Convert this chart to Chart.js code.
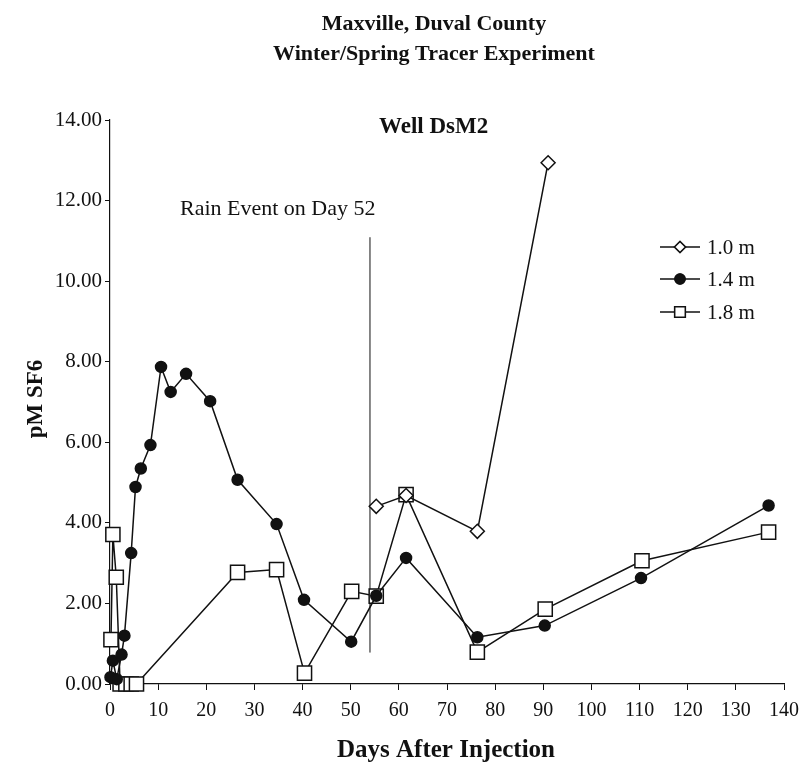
<!DOCTYPE html>
<html>
<head>
<meta charset="utf-8">
<script src="https://cdn.jsdelivr.net/npm/chart.js@4.4.1/dist/chart.umd.min.js"></script>
<style>
  html, body { margin: 0; padding: 0; background: #ffffff; }
  #wrap { position: relative; width: 801px; height: 765px; }
</style>
</head>
<body>
<div id="wrap"><canvas id="c" width="801" height="765"></canvas></div>
<script>
// ---- data ----
const titleLines = ["Maxville, Duval County", "Winter/Spring Tracer Experiment"];
const panelLabel = "Well DsM2";
const rainLabel = "Rain Event on Day 52";
const xTitle = "Days After Injection";
const yTitle = "pM SF6";
const seriesNames = ["1.0 m", "1.4 m", "1.8 m"];

const days10 = [55.3, 61.5, 76.3, 91.0];
const vals10 = [4.41, 4.68, 3.79, 12.94];

const days14 = [0.1, 0.6, 1.4, 2.4, 3.0, 4.4, 5.3, 6.4, 8.4, 10.6, 12.6, 15.8, 20.8, 26.5, 34.6, 40.3, 50.1, 55.3, 61.5, 76.3, 90.3, 110.3, 136.8];
const vals14 = [0.17, 0.58, 0.12, 0.73, 1.20, 3.25, 4.89, 5.35, 5.93, 7.87, 7.25, 7.70, 7.02, 5.07, 3.97, 2.09, 1.05, 2.19, 3.13, 1.16, 1.45, 2.63, 4.43];

const days18 = [0.2, 0.6, 1.3, 2.1, 3.3, 4.4, 5.5, 26.5, 34.6, 40.4, 50.2, 55.3, 61.5, 76.3, 90.4, 110.5, 136.8];
const vals18 = [1.10, 3.71, 2.65, 0, 0, 0, 0, 2.77, 2.84, 0.27, 2.30, 2.18, 4.70, 0.79, 1.86, 3.06, 3.77];

const rainDays = [54, 54];
const rainVals = [0.78, 11.09];

const xTicks = [0, 10, 20, 30, 40, 50, 60, 70, 80, 90, 100, 110, 120, 130, 140];
const yTicks = [0, 2, 4, 6, 8, 10, 12, 14];

// ---- build ----
const toXY = (xs, ys) => xs.map((x, i) => ({ x: x, y: ys[i] }));
const SERIF = "'Liberation Serif', 'Times New Roman', serif";

const CHART_LEFT = 110, CHART_RIGHT = 784, CHART_TOP = 120, CHART_BOTTOM = 684;

const textPlugin = {
  id: 'texts',
  afterDraw(chart) {
    const ctx = chart.ctx;
    ctx.save();
    ctx.fillStyle = '#111';
    ctx.textBaseline = 'middle';
    // title
    ctx.textAlign = 'center';
    ctx.font = 'bold 22px ' + SERIF;
    ctx.fillText(titleLines[0], 434, 24);
    ctx.fillText(titleLines[1], 434, 54);
    // panel label
    ctx.textAlign = 'left';
    ctx.font = 'bold 23px ' + SERIF;
    ctx.fillText(panelLabel, 379, 127);
    // rain label
    ctx.font = '22px ' + SERIF;
    ctx.fillText(rainLabel, 180, 209);
    // axis titles
    ctx.textAlign = 'center';
    ctx.font = 'bold 25px ' + SERIF;
    ctx.fillText(xTitle, 446, 751);
    ctx.save();
    ctx.translate(36, 399);
    ctx.rotate(-Math.PI / 2);
    ctx.font = 'bold 23px ' + SERIF;
    ctx.fillText(yTitle, 0, 0);
    ctx.restore();
    // legend
    const rows = [247, 279, 312];
    const styles = [
      { ps: 'rectRot', r: 5.5, fill: '#fff' },
      { ps: 'circle', r: 5, fill: '#111' },
      { ps: 'rect', r: 7.5, fill: '#fff' }
    ];
    ctx.textAlign = 'left';
    ctx.font = '21px ' + SERIF;
    rows.forEach((y, i) => {
      ctx.strokeStyle = '#111';
      ctx.lineWidth = 1.5;
      ctx.beginPath();
      ctx.moveTo(660, y);
      ctx.lineTo(700, y);
      ctx.stroke();
      ctx.fillStyle = styles[i].fill;
      Chart.helpers.drawPoint(ctx, { pointStyle: styles[i].ps, radius: styles[i].r, borderWidth: 1.5 }, 680, y);
      ctx.fill();
      ctx.stroke();
      ctx.fillStyle = '#111';
      ctx.fillText(seriesNames[i], 707, y + 1);
    });
    ctx.restore();
  }
};

const common = {
  borderColor: '#111',
  borderWidth: 1.5,
  pointBorderColor: '#111',
  pointBorderWidth: 1.5,
  tension: 0,
  clip: false,
  showLine: true
};

new Chart(document.getElementById('c'), {
  type: 'scatter',
  data: {
    datasets: [
      Object.assign({}, common, {
        label: seriesNames[0],
        data: toXY(days10, vals10),
        pointStyle: 'rectRot', pointRadius: 7, pointBackgroundColor: '#fff'
      }),
      Object.assign({}, common, {
        label: seriesNames[1],
        data: toXY(days14, vals14),
        pointStyle: 'circle', pointRadius: 5.5, pointBackgroundColor: '#111'
      }),
      Object.assign({}, common, {
        label: seriesNames[2],
        data: toXY(days18, vals18),
        pointStyle: 'rect', pointRadius: 10, pointBackgroundColor: '#fff'
      }),
      {
        label: 'rain',
        data: toXY(rainDays, rainVals),
        showLine: true, borderColor: '#111', borderWidth: 1, pointRadius: 0, clip: false
      }
    ]
  },
  options: {
    responsive: false,
    animation: false,
    layout: { padding: { top: CHART_TOP, right: 801 - CHART_RIGHT, left: 0, bottom: 0 } },
    plugins: { legend: { display: false }, title: { display: false }, tooltip: { enabled: false } },
    scales: {
      x: {
        type: 'linear', min: 0, max: 140,
        afterBuildTicks(s) { s.ticks = xTicks.map(v => ({ value: v })); },
        afterFit(s) { s.height = 765 - CHART_BOTTOM; s.paddingLeft = 0; s.paddingRight = 0; },
        grid: { display: true, drawOnChartArea: false, drawTicks: true, tickLength: 6, color: '#111', lineWidth: 1 },
        border: { display: true, color: '#111', width: 1.2 },
        ticks: { color: '#111', font: { family: SERIF, size: 20 }, padding: 9, maxRotation: 0, autoSkip: false }
      },
      y: {
        type: 'linear', min: 0, max: 14,
        afterBuildTicks(s) { s.ticks = yTicks.map(v => ({ value: v })); },
        afterFit(s) { s.width = CHART_LEFT; s.paddingTop = 0; s.paddingBottom = 0; },
        grid: { display: true, drawOnChartArea: false, drawTicks: true, tickLength: 5, color: '#111', lineWidth: 1 },
        border: { display: true, color: '#111', width: 1.2 },
        ticks: { color: '#111', font: { family: SERIF, size: 21 }, padding: 3, callback: v => Number(v).toFixed(2) }
      }
    }
  },
  plugins: [textPlugin]
});
</script>
</body>
</html>
